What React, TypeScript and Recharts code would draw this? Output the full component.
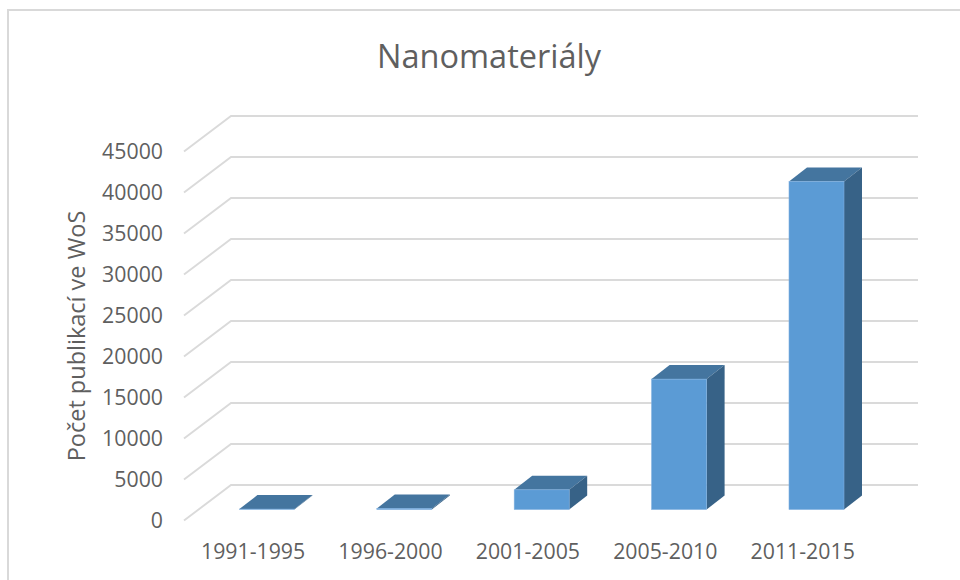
import React from "react";
import { BarChart, Bar, XAxis, YAxis, CartesianGrid } from "recharts";

const categories = ["1991-1995", "1996-2000", "2001-2005", "2005-2010", "2011-2015"];
const publications = [50, 130, 2400, 15900, 40000];
const yTicks = [0, 5000, 10000, 15000, 20000, 25000, 30000, 35000, 40000, 45000];

const rows = categories.map((period, i) => ({ period, publications: publications[i] }));

const FONT = "'Open Sans', sans-serif";
const TEXT = "#5f5f5f";
const DX = 18;
const DY = 14;

const Bar3D = (props: any) => {
  const { x, y, width, height } = props;
  const r = x + width;
  const b = y + height;
  return (
    <g>
      <polygon points={`${x},${y} ${x + DX},${y - DY} ${r + DX},${y - DY} ${r},${y}`} fill="#44759f" />
      <polygon points={`${r},${y} ${r + DX},${y - DY} ${r + DX},${b - DY} ${r},${b}`} fill="#376287" />
      <rect x={x} y={y} width={width} height={height} fill="#5b9bd5" stroke="#7fb0e0" strokeWidth={0.6} />
    </g>
  );
};

const gridLine = (props: any) => {
  const { x1, x2, y1 } = props;
  return (
    <polyline
      key={`g-${y1}`}
      points={`${x1 - 14.4},${y1 + 11} ${x1 + 32.6},${y1 - 24.5} ${x2 + 32.6},${y1 - 24.5}`}
      fill="none"
      stroke="#dadada"
      strokeWidth={1.9}
    />
  );
};

const YTick = (props: any) => (
  <text x={163} y={props.y + 18} textAnchor="end" fontFamily={FONT} fontSize={21.3} fill={TEXT}>
    {props.payload.value}
  </text>
);

const XTick = (props: any) => (
  <text x={props.x - 14} y={props.y + 41} textAnchor="middle" fontFamily={FONT} fontSize={21.3} fill={TEXT}>
    {props.payload.value}
  </text>
);

export default function App() {
  return (
    <div style={{ position: "absolute", left: 0, top: 0, width: 960, height: 580, background: "#fff", overflow: "hidden" }}>
      <div style={{ position: "absolute", left: 7, top: 9, width: 960, height: 600, borderLeft: "2px solid #d9d9d9", borderTop: "2px solid #d9d9d9" }} />
      <div style={{ position: "absolute", left: 289, top: 34, width: 400, textAlign: "center", fontFamily: FONT, fontSize: 32.5, lineHeight: "44px", color: TEXT }}>
        Nanomateriály
      </div>
      <div style={{ position: "absolute", left: 0, top: 0 }}>
        <BarChart width={960} height={580} data={rows} margin={{ top: 140.5, right: 74.6, bottom: 30.5, left: 0 }}>
          <CartesianGrid vertical={false} horizontal={gridLine} />
          <XAxis dataKey="period" height={40} axisLine={false} tickLine={false} tick={<XTick />} interval={0} />
          <YAxis
            width={198.4}
            domain={[0, 45000]}
            ticks={yTicks}
            interval={0}
            axisLine={false}
            tickLine={false}
            tick={<YTick />}
            label={{ value: "Počet publikací ve WoS", angle: -90, position: "insideLeft", dx: 72, dy: 11, style: { textAnchor: "middle", fontFamily: FONT, fontSize: 23.5, fill: TEXT } }}
          />
          <Bar dataKey="publications" barSize={55} shape={<Bar3D />} isAnimationActive={false} />
        </BarChart>
      </div>
    </div>
  );
}
